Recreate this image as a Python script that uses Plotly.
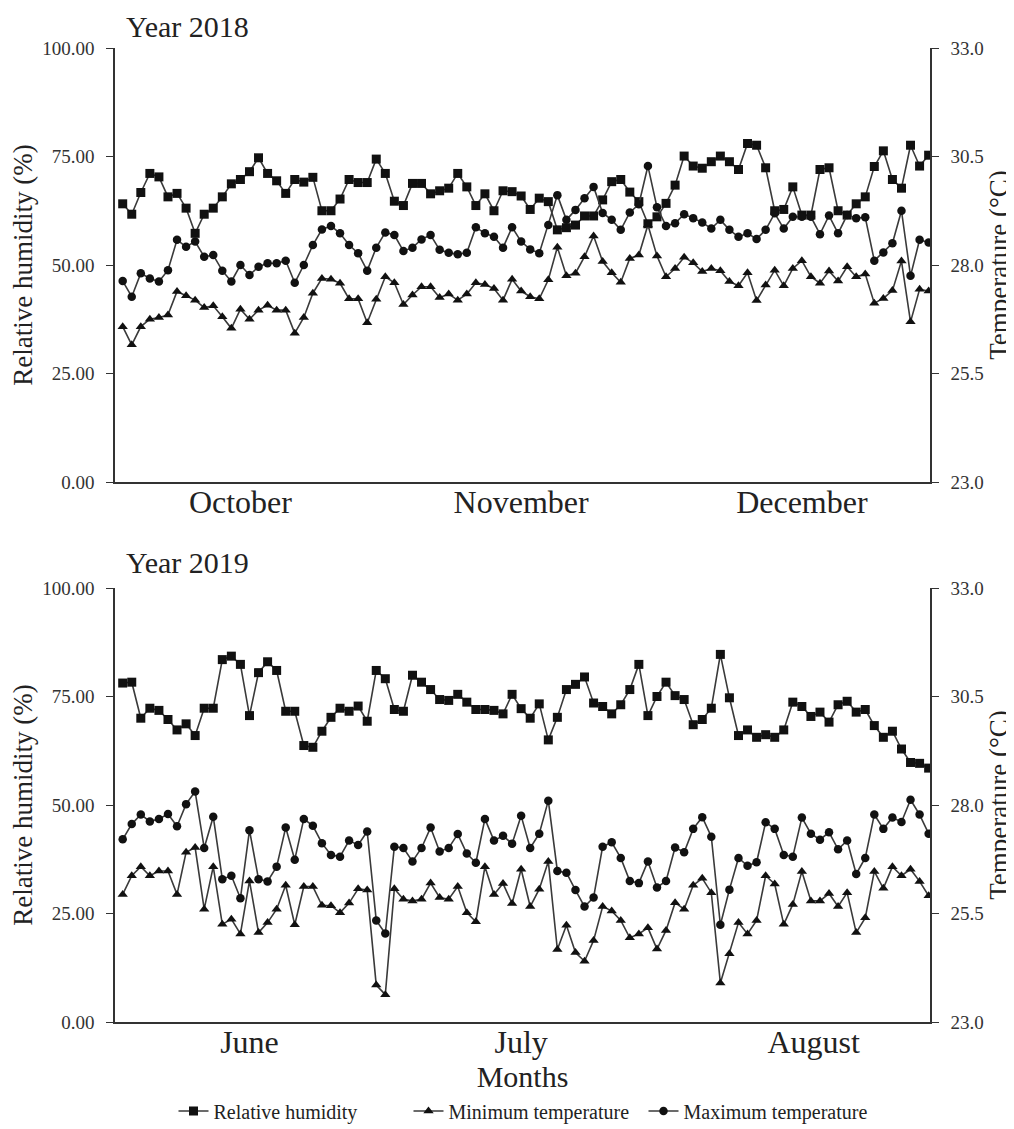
import plotly.graph_objects as go

# ---------------- DATA ----------------
days = list(range(1, 91))

months_2018 = ["October", "November", "December"]
month_mid_2018 = [14, 45, 76]
months_2019 = ["June", "July", "August"]
month_mid_2019 = [15, 45, 77.3]

rh_2018 = [64.1, 61.7, 66.7, 71.1, 70.3, 65.7, 66.5, 63.1, 57.3, 61.7, 63.1, 65.7, 68.7, 69.7, 71.5,
           74.7, 71.1, 69.4, 66.5, 69.7, 69.1, 70.2, 62.5, 62.5, 65.2, 69.7, 69.0, 69.0, 74.4, 71.1,
           64.7, 63.7, 68.8, 68.8, 66.4, 67.1, 67.7, 71.1, 68.0, 63.7, 66.4, 62.5, 67.1, 66.9, 65.9,
           62.8, 65.4, 64.6, 58.1, 58.6, 59.2, 61.3, 61.3, 65.0, 69.2, 69.7, 66.8, 64.6, 59.5, 61.1,
           64.2, 68.4, 75.1, 72.8, 72.3, 73.8, 75.1, 73.8, 72.0, 78.0, 77.6, 72.4, 62.5, 62.8, 68.0,
           61.5, 61.5, 72.0, 72.4, 62.5, 61.5, 64.1, 65.7, 72.7, 76.3, 69.7, 67.7, 77.6, 72.8, 75.3]

tmin_2018 = [26.58, 26.16, 26.58, 26.75, 26.79, 26.85, 27.39, 27.29, 27.19, 27.02, 27.06, 26.81, 26.54, 26.98, 26.75,
             26.96, 27.07, 26.96, 26.96, 26.43, 26.79, 27.35, 27.69, 27.67, 27.58, 27.22, 27.22, 26.67, 27.21, 27.73,
             27.59, 27.09, 27.31, 27.50, 27.50, 27.25, 27.33, 27.19, 27.33, 27.59, 27.55, 27.46, 27.19, 27.67, 27.40,
             27.27, 27.22, 27.66, 28.41, 27.75, 27.81, 28.19, 28.67, 28.08, 27.82, 27.60, 28.15, 28.23, 28.92, 28.21,
             27.73, 27.92, 28.18, 28.05, 27.85, 27.92, 27.87, 27.62, 27.52, 27.82, 27.18, 27.54, 27.88, 27.52, 27.92,
             28.10, 27.73, 27.58, 27.86, 27.63, 27.96, 27.73, 27.79, 27.12, 27.23, 27.41, 28.09, 26.69, 27.44, 27.40]

tmax_2018 = [27.63, 27.27, 27.81, 27.69, 27.62, 27.88, 28.58, 28.42, 28.54, 28.19, 28.23, 27.87, 27.62, 28.00, 27.77,
             27.96, 28.04, 28.04, 28.10, 27.59, 28.00, 28.46, 28.82, 28.90, 28.73, 28.46, 28.27, 27.87, 28.40, 28.75,
             28.69, 28.32, 28.40, 28.59, 28.69, 28.35, 28.28, 28.25, 28.28, 28.87, 28.73, 28.65, 28.40, 28.87, 28.54,
             28.36, 28.27, 28.92, 29.61, 29.04, 29.27, 29.54, 29.80, 29.20, 29.04, 28.81, 29.21, 29.40, 30.28, 29.33,
             28.90, 28.96, 29.17, 29.08, 28.98, 28.84, 29.04, 28.81, 28.65, 28.73, 28.60, 28.81, 29.19, 28.84, 29.11,
             29.11, 29.11, 28.71, 29.14, 28.73, 29.15, 29.08, 29.10, 28.10, 28.29, 28.50, 29.25, 27.75, 28.58, 28.52]

rh_2019 = [78.1, 78.3, 70.0, 72.3, 71.8, 69.7, 67.3, 68.7, 66.0, 72.3, 72.3, 83.5, 84.3, 82.4, 70.6,
           80.5, 83.0, 81.0, 71.6, 71.6, 63.7, 63.3, 67.0, 70.2, 72.3, 71.6, 72.8, 69.3, 81.0, 79.1,
           72.0, 71.6, 79.9, 78.3, 76.6, 74.3, 74.1, 75.5, 73.7, 72.0, 72.0, 71.8, 71.0, 75.5, 72.2,
           70.0, 73.3, 65.0, 70.2, 76.6, 77.8, 79.5, 73.5, 72.7, 71.0, 73.1, 76.6, 82.4, 70.6, 75.0,
           78.3, 75.2, 74.3, 68.5, 69.7, 72.3, 84.7, 74.7, 66.0, 67.3, 65.6, 66.2, 65.6, 67.3, 73.7,
           72.7, 70.4, 71.4, 69.1, 73.1, 73.9, 71.4, 72.0, 68.3, 65.6, 67.0, 62.9, 59.8, 59.6, 58.5]

tmin_2019 = [25.94, 26.37, 26.58, 26.37, 26.48, 26.48, 25.94, 26.91, 27.02, 25.60, 26.58, 25.25, 25.37, 25.03, 26.25,
             25.06, 25.29, 25.60, 26.15, 25.24, 26.12, 26.12, 25.69, 25.68, 25.52, 25.74, 26.07, 26.04, 23.85, 23.63,
             26.07, 25.83, 25.79, 25.83, 26.20, 25.87, 25.83, 26.12, 25.52, 25.31, 26.58, 25.94, 26.19, 25.73, 26.52,
             25.66, 26.06, 26.70, 24.67, 25.23, 24.60, 24.40, 24.88, 25.66, 25.56, 25.34, 24.94, 25.03, 25.17, 24.68,
             25.11, 25.75, 25.60, 26.15, 26.31, 25.98, 23.90, 24.57, 25.29, 25.03, 25.34, 26.37, 26.18, 25.25, 25.71,
             26.47, 25.79, 25.79, 25.96, 25.66, 25.98, 25.06, 25.40, 26.47, 26.08, 26.58, 26.37, 26.52, 26.24, 25.91]

tmax_2019 = [27.21, 27.56, 27.78, 27.62, 27.68, 27.79, 27.51, 28.02, 28.31, 27.01, 27.73, 26.29, 26.37, 25.85, 27.42,
             26.29, 26.24, 26.58, 27.48, 26.74, 27.68, 27.52, 27.12, 26.85, 26.81, 27.18, 27.08, 27.39, 25.34, 25.04,
             27.04, 27.01, 26.70, 27.01, 27.48, 26.93, 27.01, 27.33, 26.88, 26.67, 27.68, 27.18, 27.29, 27.11, 27.75,
             27.01, 27.34, 28.10, 26.48, 26.44, 26.04, 25.66, 25.87, 27.04, 27.14, 26.78, 26.25, 26.20, 26.70, 26.10,
             26.25, 27.02, 26.91, 27.45, 27.72, 27.27, 25.24, 26.05, 26.78, 26.60, 26.68, 27.60, 27.45, 26.85, 26.81,
             27.71, 27.34, 27.20, 27.37, 26.98, 27.18, 26.41, 26.78, 27.78, 27.45, 27.71, 27.61, 28.12, 27.78, 27.34]

rh_ticks = [0, 25, 50, 75, 100]
temp_ticks = [23.0, 25.5, 28.0, 30.5, 33.0]

# ---------------- STYLE ----------------
FONT = "Liberation Serif"
LINE = "#3a3a3a"
MK = "#111111"
OFF = 8                      # page body margin
FW, FH = 1006, 1121          # figure size inside the page


def px(x):
    return (x - OFF) / FW


def py(y):
    return 1 - (y - OFF) / FH


XD = [px(115), px(930)]
YD_TOP = [py(482), py(48)]
YD_BOT = [py(1022), py(588)]

fig = go.Figure()


def add_series(xa, ya_rh, ya_t, rh, tmin, tmax, show):
    fig.add_trace(go.Scatter(x=days, y=rh, xaxis=xa, yaxis=ya_rh, mode="lines+markers",
                             name="Relative humidity", showlegend=show, legendrank=1,
                             line=dict(color=LINE, width=1.6),
                             marker=dict(symbol="square", size=9, color=MK)))
    fig.add_trace(go.Scatter(x=days, y=tmin, xaxis=xa, yaxis=ya_t, mode="lines+markers",
                             name="Minimum temperature", showlegend=show, legendrank=2,
                             line=dict(color=LINE, width=1.6),
                             marker=dict(symbol="triangle-up", size=9, color=MK)))
    fig.add_trace(go.Scatter(x=days, y=tmax, xaxis=xa, yaxis=ya_t, mode="lines+markers",
                             name="Maximum temperature", showlegend=show, legendrank=3,
                             line=dict(color=LINE, width=1.6),
                             marker=dict(symbol="circle", size=8.5, color=MK)))


add_series("x", "y", "y2", rh_2018, tmin_2018, tmax_2018, True)
add_series("x2", "y3", "y4", rh_2019, tmin_2019, tmax_2019, False)

axis_common = dict(showline=True, linecolor="#333", linewidth=1.5, showgrid=False,
                   zeroline=False, automargin=False)


def xaxis(anchor, vals, labels, title=None):
    d = dict(axis_common, domain=XD, anchor=anchor, range=[0.15, 90.15],
             tickmode="array", tickvals=vals, ticktext=labels, ticks="",
             ticklabelstandoff=-9,
             tickfont=dict(family=FONT, size=32, color="#222"))
    if title:
        d["title"] = dict(text=title, font=dict(family=FONT, size=30, color="#222"), standoff=4)
    return d


def yleft(domain, anchor):
    return dict(axis_common, domain=domain, anchor=anchor,
                range=[0, 100], tickmode="array", tickvals=rh_ticks, tickformat=".2f",
                ticks="outside", ticklen=7, tickwidth=1.3, tickcolor="#333",
                ticklabelstandoff=8,
                tickfont=dict(family=FONT, size=19, color="#333"),
                title=dict(text="Relative humidity (%)",
                           font=dict(family=FONT, size=27, color="#222"), standoff=6))


def yright(over, anchor):
    return dict(axis_common, overlaying=over, side="right", anchor=anchor,
                range=[23, 33], tickmode="array", tickvals=temp_ticks, tickformat=".1f",
                ticks="outside", ticklen=7, tickwidth=1.3, tickcolor="#333",
                ticklabelstandoff=8,
                tickfont=dict(family=FONT, size=19, color="#333"),
                title=dict(text="Temperature (°C)",
                           font=dict(family=FONT, size=27, color="#222"), standoff=8))


fig.update_layout(
    width=FW, height=FH,
    margin=dict(l=0, r=0, t=0, b=0, autoexpand=False),
    paper_bgcolor="white", plot_bgcolor="white",
    font=dict(family=FONT, color="#222"),
    xaxis=xaxis("y", month_mid_2018, months_2018),
    yaxis=yleft(YD_TOP, "x"),
    yaxis2=yright("y", "x"),
    xaxis2=xaxis("y3", month_mid_2019, months_2019, title="Months"),
    yaxis3=yleft(YD_BOT, "x2"),
    yaxis4=yright("y3", "x2"),
    legend=dict(orientation="h", x=px(526), xanchor="center", y=py(1111), yanchor="middle",
                font=dict(family=FONT, size=20, color="#222"), itemwidth=30,
                entrywidth=190, entrywidthmode="pixels",
                bgcolor="rgba(0,0,0,0)"),
    annotations=[
        dict(text="Year 2018", x=px(124), y=1, xref="paper", yref="paper",
             xanchor="left", yanchor="top", showarrow=False,
             font=dict(family=FONT, size=30, color="#222")),
        dict(text="Year 2019", x=px(124), y=py(562), xref="paper", yref="paper",
             xanchor="left", yanchor="middle", showarrow=False,
             font=dict(family=FONT, size=30, color="#222")),
    ],
)

fig.write_html("out.html")
